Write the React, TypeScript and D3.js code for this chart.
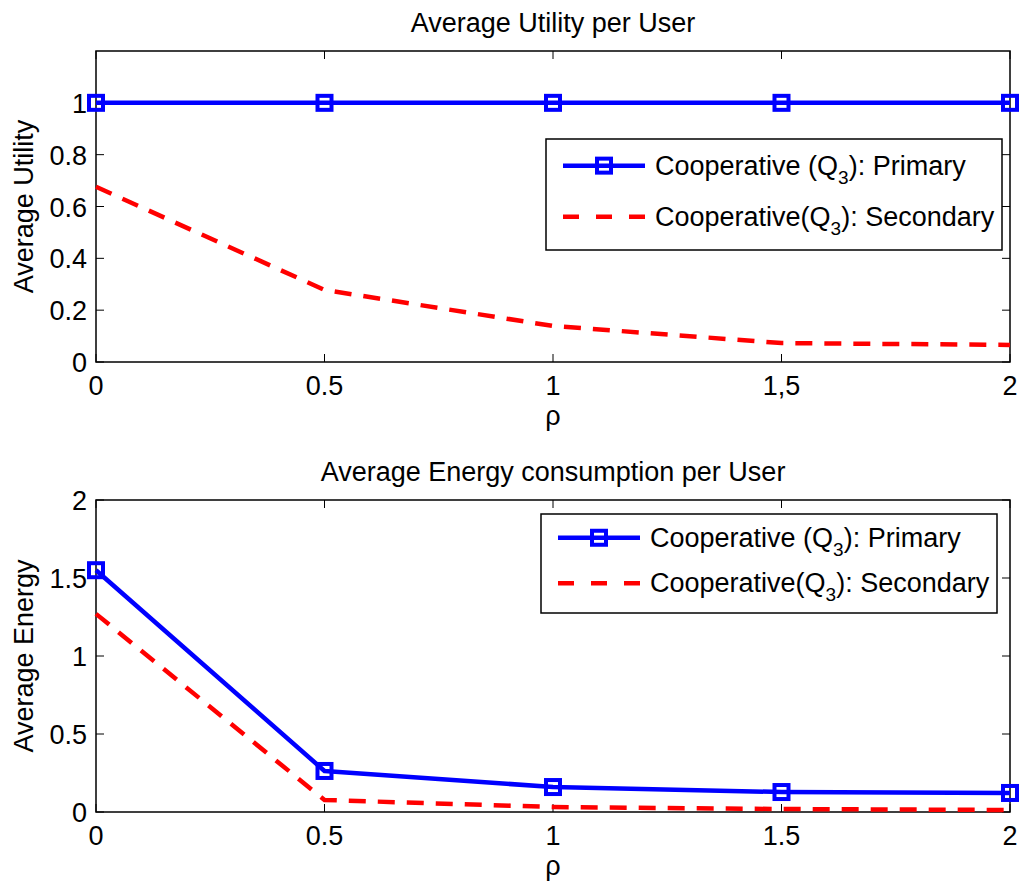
import React from "react";
import * as d3 from "d3";

const rho = [0, 0.5, 1, 1.5, 2];
const utilPrimary = [1, 1, 1, 1, 1];
const utilSecondary = [0.676, 0.278, 0.139, 0.073, 0.066];
const energyPrimary = [1.55, 0.263, 0.16, 0.128, 0.122];
const energySecondary = [1.27, 0.077, 0.032, 0.019, 0.013];

const xTicksTop = ["0", "0.5", "1", "1,5", "2"];
const xTicksBottom = ["0", "0.5", "1", "1.5", "2"];
const yTicksTop = [0, 0.2, 0.4, 0.6, 0.8, 1];
const yTicksBottom = [0, 0.5, 1, 1.5, 2];

const FONT = "'Liberation Sans', Arial, Helvetica, sans-serif";
const FS = 27;

type PanelProps = {
  top: number;
  bottom: number;
  yMax: number;
  yTicks: number[];
  xTickLabels: string[];
  primary: number[];
  secondary: number[];
  title: string;
  yLabel: string;
  legend: { x0: number; y0: number; x1: number; y1: number };
};

const LEFT = 96;
const RIGHT = 1010;

function Panel(p: PanelProps) {
  const x = d3.scaleLinear().domain([0, 2]).range([LEFT, RIGHT]);
  const y = d3.scaleLinear().domain([0, p.yMax]).range([p.bottom, p.top]);
  const line = d3
    .line<number>()
    .x((_, i) => x(rho[i]))
    .y((d) => y(d));
  const tick = 8;
  const lg = p.legend;
  const row1 = lg.y0 + (lg.y1 - lg.y0) * 0.24;
  const row2 = lg.y0 + (lg.y1 - lg.y0) * 0.7;
  const lx0 = lg.x0 + 17;
  const lx1 = lg.x0 + 99;
  const tx = lg.x0 + 109;
  return (
    <g>
      <text x={(LEFT + RIGHT) / 2} y={p.top - 19} textAnchor="middle" fontSize={FS} fontFamily={FONT}>
        {p.title}
      </text>
      <text
        transform={`translate(33,${(p.top + p.bottom) / 2}) rotate(-90)`}
        textAnchor="middle"
        fontSize={FS}
        fontFamily={FONT}
      >
        {p.yLabel}
      </text>
      <text x={(LEFT + RIGHT) / 2} y={p.bottom + 63} textAnchor="middle" fontSize={FS} fontFamily={FONT}>
        ρ
      </text>
      {rho.map((v, i) => (
        <g key={"xt" + i}>
          <line x1={x(v)} x2={x(v)} y1={p.bottom} y2={p.bottom - tick} stroke="black" strokeWidth={1} />
          <line x1={x(v)} x2={x(v)} y1={p.top} y2={p.top + tick} stroke="black" strokeWidth={1} />
          <text x={x(v)} y={p.bottom + 33} textAnchor="middle" fontSize={FS} fontFamily={FONT}>
            {p.xTickLabels[i]}
          </text>
        </g>
      ))}
      {p.yTicks.map((v, i) => (
        <g key={"yt" + i}>
          <line x1={LEFT} x2={LEFT + tick} y1={y(v)} y2={y(v)} stroke="black" strokeWidth={1} />
          <line x1={RIGHT} x2={RIGHT - tick} y1={y(v)} y2={y(v)} stroke="black" strokeWidth={1} />
          <text x={LEFT - 9} y={y(v) + 10} textAnchor="end" fontSize={FS} fontFamily={FONT}>
            {String(v)}
          </text>
        </g>
      ))}
      <rect x={LEFT} y={p.top} width={RIGHT - LEFT} height={p.bottom - p.top} fill="none" stroke="black" strokeWidth={1.5} />
      <path d={line(p.secondary) || ""} fill="none" stroke="#ff0000" strokeWidth={4.5} strokeDasharray="17,12" />
      <path d={line(p.primary) || ""} fill="none" stroke="#0000ff" strokeWidth={4.5} strokeLinejoin="round" />
      {p.primary.map((v, i) => (
        <rect key={"m" + i} x={x(rho[i]) - 7} y={y(v) - 7} width={14} height={14} fill="none" stroke="#0000ff" strokeWidth={4} />
      ))}
      <rect x={lg.x0} y={lg.y0} width={lg.x1 - lg.x0} height={lg.y1 - lg.y0} fill="white" stroke="black" strokeWidth={1.5} />
      <line x1={lx0} x2={lx1} y1={row1} y2={row1} stroke="#0000ff" strokeWidth={4.5} />
      <rect x={(lx0 + lx1) / 2 - 7} y={row1 - 7} width={14} height={14} fill="none" stroke="#0000ff" strokeWidth={4} />
      <line x1={lx0} x2={lx1} y1={row2} y2={row2} stroke="#ff0000" strokeWidth={4.5} strokeDasharray="16,17" />
      <text x={tx} y={row1 + 9} fontSize={FS} fontFamily={FONT}>
        Cooperative (Q<tspan fontSize={19} dy={9}>3</tspan>
        <tspan dy={-9}>): Primary</tspan>
      </text>
      <text x={tx} y={row2 + 9} fontSize={FS} fontFamily={FONT}>
        Cooperative(Q<tspan fontSize={19} dy={9}>3</tspan>
        <tspan dy={-9}>): Secondary</tspan>
      </text>
    </g>
  );
}

export default function App() {
  return (
    <svg width={1019} height={884} style={{ position: "absolute", left: 0, top: 0, background: "white" }}>
      <rect width={1019} height={884} fill="white" />
      <Panel
        top={51}
        bottom={362}
        yMax={1.2}
        yTicks={yTicksTop}
        xTickLabels={xTicksTop}
        primary={utilPrimary}
        secondary={utilSecondary}
        title="Average Utility per User"
        yLabel="Average Utility"
        legend={{ x0: 546, y0: 139, x1: 1002, y1: 250 }}
      />
      <Panel
        top={500}
        bottom={812}
        yMax={2}
        yTicks={yTicksBottom}
        xTickLabels={xTicksBottom}
        primary={energyPrimary}
        secondary={energySecondary}
        title="Average Energy consumption per User"
        yLabel="Average Energy"
        legend={{ x0: 541, y0: 514, x1: 997, y1: 613 }}
      />
    </svg>
  );
}
